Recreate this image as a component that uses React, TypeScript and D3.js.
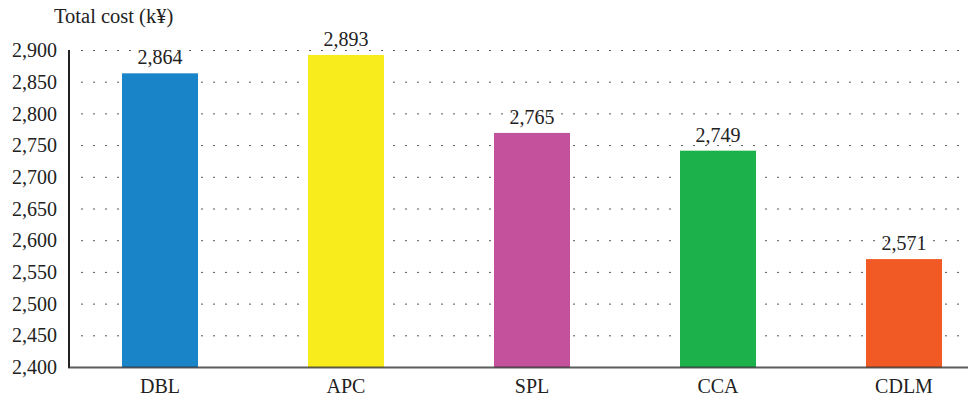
import React from "react";
import * as d3 from "d3";

// chart data
const categories = ["DBL", "APC", "SPL", "CCA", "CDLM"];
const barValues = [2864, 2893, 2770, 2742, 2571];
const valueLabels = ["2,864", "2,893", "2,765", "2,749", "2,571"];
const barColors = ["#1984c7", "#f9ec1c", "#c3519c", "#1db14b", "#f15a25"];
const yTicks = [2400, 2450, 2500, 2550, 2600, 2650, 2700, 2750, 2800, 2850, 2900];

const W = 968;
const H = 400;
const FONT = "'Liberation Serif', 'Times New Roman', serif";

const App = () => {
  const y = d3.scaleLinear().domain([2400, 2900]).range([367.5, 50.5]);
  const x = d3.scalePoint().domain(categories).range([67, 997]).padding(0.5);
  const barW = 76;
  const fmt = d3.format(",");

  return (
    <svg
      width={W}
      height={H}
      style={{ position: "absolute", left: 0, top: 0, background: "#fff" }}
      fontFamily={FONT}
    >
      {/* dotted gridlines */}
      {yTicks.slice(1).map(t => (
        <line
          key={"g" + t}
          x1={81}
          x2={W}
          y1={y(t)}
          y2={y(t)}
          stroke="#555"
          strokeWidth={1}
          strokeDasharray="2 10"
        />
      ))}

      {/* bars */}
      {categories.map((c, i) => (
        <rect
          key={c}
          x={(x(c) as number) - barW / 2}
          y={y(barValues[i])}
          width={barW}
          height={y(2400) - y(barValues[i])}
          fill={barColors[i]}
        />
      ))}

      {/* value labels */}
      {categories.map((c, i) => (
        <text
          key={"v" + c}
          x={x(c) as number}
          y={y(barValues[i]) - 9}
          textAnchor="middle"
          fontSize={20}
          fill="#222"
        >
          {valueLabels[i]}
        </text>
      ))}

      {/* axes */}
      <line x1={69} x2={69} y1={50} y2={368} stroke="#222" strokeWidth={2} />
      <line x1={68} x2={W} y1={367.5} y2={367.5} stroke="#333" strokeOpacity={0.8} strokeWidth={2} />

      {yTicks.map(t => (
        <text
          key={"t" + t}
          x={57}
          y={y(t)}
          dy="0.33em"
          textAnchor="end"
          fontSize={20}
          fill="#222"
        >
          {fmt(t)}
        </text>
      ))}

      {categories.map(c => (
        <text key={"c" + c} x={x(c) as number} y={393} textAnchor="middle" fontSize={20} fill="#222">
          {c}
        </text>
      ))}

      <text x={54} y={23} fontSize={20.5} fill="#222">
        Total cost (k¥)
      </text>
    </svg>
  );
};

export default App;
